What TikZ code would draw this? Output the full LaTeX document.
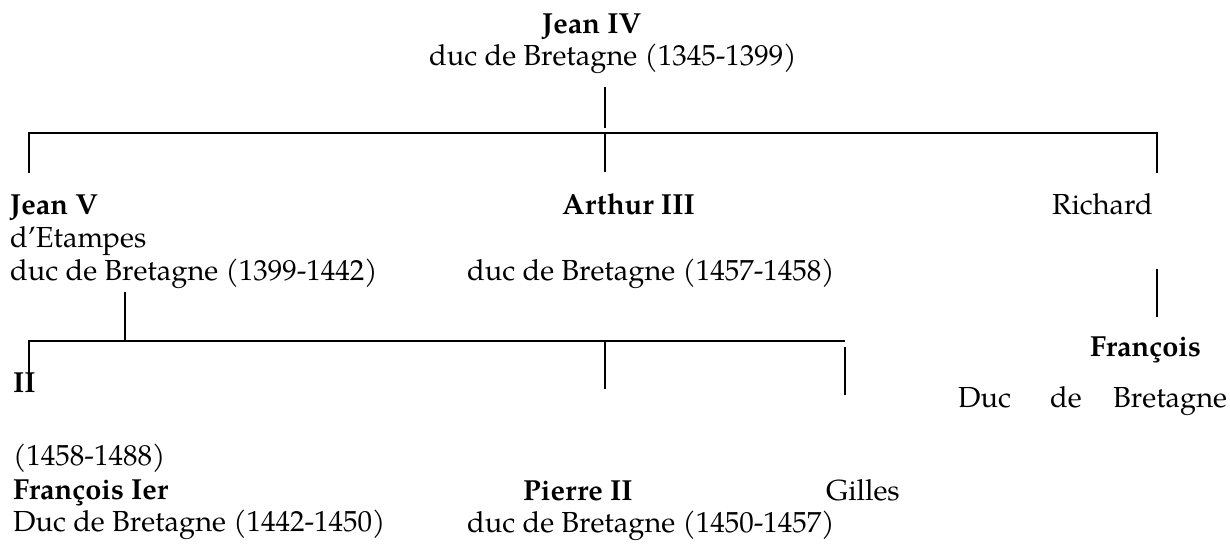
\documentclass[tikz,border=0pt]{standalone}
\usepackage{fontspec}
\setmainfont{texgyrepagella}[Extension=.otf, UprightFont=*-regular, BoldFont=*-bold, ItalicFont=*-italic, BoldItalicFont=*-bolditalic]
\begin{document}
\begin{tikzpicture}[x=1pt,y=-1pt,
  txt/.style={anchor=base west, inner sep=0pt, font=\fontsize{29}{34}\selectfont},
  who/.style={anchor=base west, inner sep=0pt, font=\fontsize{29}{34}\selectfont\bfseries},
  link/.style={line width=1.1pt}]
\useasboundingbox (0,0) rectangle (1230,544);
% texts
\node[who] (jeanIV)  at (542,33) {Jean IV};
\node[txt] (jeanIVd) at (429,65) {duc de Bretagne (1345-1399)};
\node[who] (jeanV)   at (10,214) {Jean V};
\node[txt] (jeanVa)  at (10,247) {d’Etampes};
\node[txt] (jeanVd)  at (10,280) {duc de Bretagne (1399-1442)};
\node[who] (arthur)  at (562,214) {Arthur III};
\node[txt] (arthurd) at (467,280) {duc de Bretagne (1457-1458)};
\node[txt] (richard) at (1052,214) {Richard};
\node[who] (francois) at (1090,356) {François};
\node[txt] (fdA) at (958,407) {Duc};
\node[txt] (fdB) at (1050,407) {de};
\node[txt] (fdC) at (1113,407) {Bretagne};
\node[who] (ii)     at (13,392) {II};
\node[txt] (fyears) at (13,465) {(1458-1488)};
\node[who] (fI)     at (13,499) {François Ier};
\node[txt] (fId)    at (13,531) {Duc de Bretagne (1442-1450)};
\node[who] (pierre) at (523,500) {Pierre II};
\node[txt] (pierred) at (467,532) {duc de Bretagne (1450-1457)};
\node[txt] (gilles) at (826,500) {Gilles};
% line ends
\coordinate (s1) at (605,87);
\coordinate (s2) at (605,128);
\coordinate (hL) at (29,133);
\coordinate (hM) at (605,133);
\coordinate (hR) at (1157,133);
\coordinate (dL) at (29,173);
\coordinate (dM) at (605,172);
\coordinate (dR) at (1157,173);
\coordinate (v1) at (125,292);
\coordinate (v2) at (125,341);
\coordinate (gL) at (29,341);
\coordinate (gM) at (605,341);
\coordinate (gR) at (845,341);
\coordinate (eL) at (29,390);
\coordinate (eM) at (605,389);
\coordinate (g1) at (845,347);
\coordinate (g2) at (845,395);
\coordinate (r1) at (1157,269);
\coordinate (r2) at (1157,317);
% connectors
\draw[link] (s1) -- (s2);
\draw[link] (dL) -- (hL) -- (hR) -- (dR);
\draw[link] (hM) -- (dM);
\draw[link] (v1) -- (v2);
\draw[link] (eL) -- (gL) -- (gR);
\draw[link] (gM) -- (eM);
\draw[link] (g1) -- (g2);
\draw[link] (r1) -- (r2);
\end{tikzpicture}
\end{document}
